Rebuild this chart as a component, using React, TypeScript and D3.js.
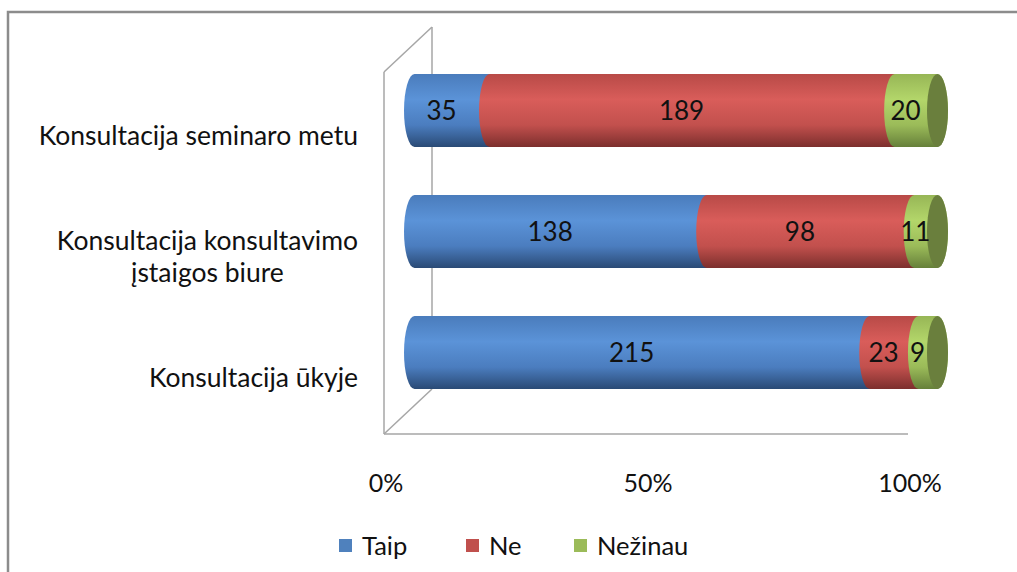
import React from 'react';
import * as d3 from 'd3';

// data
const categories = [
  ['Konsultacija seminaro metu'],
  ['Konsultacija konsultavimo', 'įstaigos biure'],
  ['Konsultacija ūkyje'],
];
const seriesNames = ['Taip', 'Ne', 'Nežinau'];
const taip = [35, 138, 215];
const ne = [189, 98, 23];
const nezinau = [20, 11, 9];
const tickValues = [0, 0.5, 1];

const W = 1017;
const H = 572;
const FONT = "Lato, 'Open Sans', 'Liberation Sans', sans-serif";
const LABEL_SIZE = 26.5;

// plot geometry (front plane + depth offset of the 3D box)
const front = { left: 384, right: 908, top: 72, bottom: 434 };
const depth = { dx: 48, dy: -45 };

const gradients = [
  { id: 'gTaip', stops: ['#4a7cbc', '#5b93d8', '#4b7dbf', '#2a4a75'], legend: '#4f81bd' },
  { id: 'gNe', stops: ['#b84a47', '#d95d5a', '#c2504d', '#7c2f2d'], legend: '#c0504d' },
  { id: 'gNez', stops: ['#97b656', '#b3d66a', '#9bbb59', '#66803a'], legend: '#9bbb59' },
];
const capColor = '#6a7f3d';

// width of a string in the label font, so multi-line labels can be right-aligned as a block
const measure = (s: string, size: number) => {
  const ctx = document.createElement('canvas').getContext('2d');
  if (!ctx) return s.length * size * 0.48;
  ctx.font = `${size}px ${FONT}`;
  return ctx.measureText(s).width;
};

const App: React.FC = () => {
  const rows = categories.map((c, i) => {
    const vals = [taip[i], ne[i], nezinau[i]];
    const total = d3.sum(vals);
    let acc = 0;
    const segs = vals.map((v, k) => {
      const s = { k, v, a: acc / total, b: (acc + v) / total };
      acc += v;
      return s;
    });
    return { i, segs };
  });

  // bars sit mid-depth; x is the share of the row total
  const x = d3.scaleLinear().domain([0, 1]).range([414.5, 937.5]);
  const y = d3.scalePoint<number>().domain(d3.range(categories.length)).range([110.5, 352.5]);
  const axisX = d3.scaleLinear().domain([0, 1]).range([front.left, front.right]);
  const ry = 36.5;
  const rx = 10.5;
  const fmt = d3.format('.0%');
  const labelRight = 358;

  const segPath = (xa: number, xb: number, cy: number) => {
    const t = cy - ry;
    const b = cy + ry;
    return `M${xa},${t} A${rx},${ry} 0 0 0 ${xa},${b} L${xb},${b} A${rx},${ry} 0 0 0 ${xb},${t} Z`;
  };

  const legendX = [339, 466, 574];

  return (
    <svg width={W} height={H} style={{ position: 'absolute', left: 0, top: 0 }} fontFamily={FONT}>
      <defs>
        {gradients.map(g => (
          <linearGradient key={g.id} id={g.id} x1="0" y1="0" x2="0" y2="1">
            <stop offset="0" stopColor={g.stops[0]} />
            <stop offset="0.35" stopColor={g.stops[1]} />
            <stop offset="0.7" stopColor={g.stops[2]} />
            <stop offset="1" stopColor={g.stops[3]} />
          </linearGradient>
        ))}
      </defs>
      <rect width={W} height={H} fill="#fff" />
      {/* outer chart border (cropped on right/bottom) */}
      <path d={`M8,${H} V12 H${W}`} fill="none" stroke="#8c8c8c" strokeWidth={2.5} />

      {/* 3D walls */}
      <g fill="none" stroke="#a6a6a6" strokeWidth={1.5}>
        <line x1={front.left} y1={front.top} x2={front.left} y2={front.bottom} />
        <line x1={front.left + depth.dx} y1={front.top + depth.dy} x2={front.left + depth.dx} y2={front.bottom + depth.dy} />
        <line x1={front.left} y1={front.top} x2={front.left + depth.dx} y2={front.top + depth.dy} />
        <line x1={front.left} y1={front.bottom} x2={front.left + depth.dx} y2={front.bottom + depth.dy} />
        <line x1={front.left} y1={front.bottom} x2={front.right} y2={front.bottom} />
      </g>

      {/* cylinders */}
      {rows.map(r => {
        const cy = y(r.i)!;
        const last = r.segs[r.segs.length - 1];
        return (
          <g key={r.i}>
            {r.segs.map(s => (
              <path key={s.k} d={segPath(x(s.a), x(s.b), cy)} fill={`url(#${gradients[s.k].id})`} />
            ))}
            <ellipse cx={x(last.b)} cy={cy} rx={rx} ry={ry} fill={capColor} />
            {r.segs.map(s => (
              <text
                key={`t${s.k}`}
                x={(x(s.a) + x(s.b)) / 2 - rx}
                y={cy}
                dy="0.35em"
                textAnchor="middle"
                fontSize={26}
                fill="#111"
              >
                {s.v}
              </text>
            ))}
          </g>
        );
      })}

      {/* category labels */}
      {categories.map((lines, i) => {
        const cy = y(i)! + 25;
        const lh = 32;
        const y0 = cy - ((lines.length - 1) * lh) / 2;
        const wMax = d3.max(lines, l => measure(l, LABEL_SIZE)) || 0;
        const cx = labelRight - wMax / 2;
        return (
          <text key={i} fontSize={LABEL_SIZE} fill="#111" textAnchor="middle">
            {lines.map((l, j) => (
              <tspan key={j} x={cx} y={y0 + j * lh} dy="0.35em">
                {l}
              </tspan>
            ))}
          </text>
        );
      })}

      {/* x tick labels */}
      {tickValues.map(t => (
        <text key={t} x={axisX(t) + 2} y={483} dy="0.35em" textAnchor="middle" fontSize={25} fill="#111">
          {fmt(t)}
        </text>
      ))}

      {/* legend */}
      {seriesNames.map((n, k) => (
        <g key={n}>
          <rect x={legendX[k]} y={539} width={13} height={13} fill={gradients[k].legend} />
          <text x={legendX[k] + 23} y={546} dy="0.35em" fontSize={25.5} fill="#111">
            {n}
          </text>
        </g>
      ))}
    </svg>
  );
};

export default App;
